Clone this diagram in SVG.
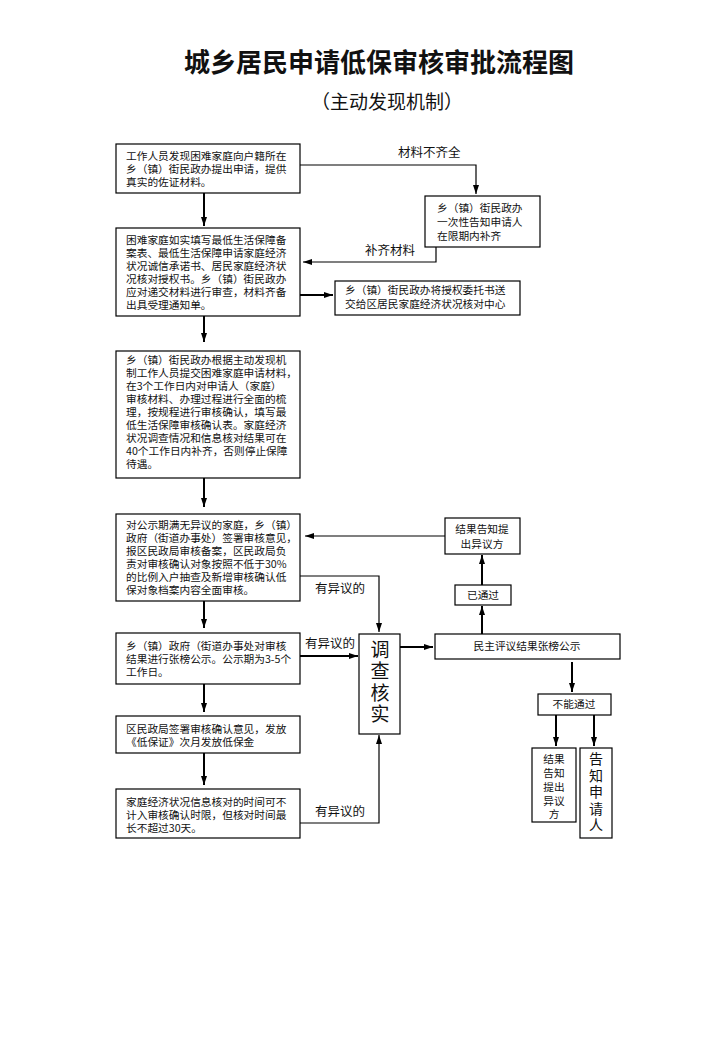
<svg xmlns="http://www.w3.org/2000/svg" width="720" height="1040" viewBox="0 0 720 1040">
<defs>
<marker id="ah" markerWidth="9" markerHeight="6" refX="9" refY="3" orient="auto" markerUnits="userSpaceOnUse">
<path d="M0,0 L9,3 L0,6 Z" fill="#000"/>
</marker>
<style>
.box{fill:#fff;stroke:#000;stroke-width:1.2}
.t{font-family:"Noto Sans CJK SC","Liberation Sans",sans-serif;font-size:10.7px;fill:#111}
.lbl{font-family:"Noto Sans CJK SC","Liberation Sans",sans-serif;font-size:12.5px;fill:#111}
.c{text-anchor:middle}
.v{font-family:"Noto Sans CJK SC",sans-serif;fill:#111;writing-mode:vertical-rl}
.ln{fill:none;stroke:#000;stroke-width:1.2}
.th{fill:none;stroke:#000;stroke-width:2}
</style>
</defs>
<rect width="720" height="1040" fill="#fff"/>
<g id="title">
<text x="379" y="72" text-anchor="middle" font-family="'Noto Sans CJK SC',sans-serif" font-size="26" font-weight="bold" fill="#111">城乡居民申请低保审核审批流程图</text>
<text x="387" y="109" text-anchor="middle" font-family="'Noto Sans CJK SC',sans-serif" font-size="19" fill="#111">（主动发现机制）</text>
</g>
<g id="connectors">
<line class="th" x1="204" y1="193" x2="204" y2="226" marker-end="url(#ah)"/>
<polyline class="ln" points="300,165 476,165 476,194" marker-end="url(#ah)"/>
<polyline class="ln" points="436,247 436,262 303,262" marker-end="url(#ah)"/>
<line class="th" x1="300" y1="295" x2="333" y2="295" marker-end="url(#ah)"/>
<line class="th" x1="204" y1="316" x2="204" y2="342" marker-end="url(#ah)"/>
<line class="th" x1="204" y1="478" x2="204" y2="507" marker-end="url(#ah)"/>
<line class="th" x1="204" y1="601" x2="204" y2="628" marker-end="url(#ah)"/>
<line class="th" x1="204" y1="684" x2="204" y2="712" marker-end="url(#ah)"/>
<line class="th" x1="204" y1="753" x2="204" y2="785" marker-end="url(#ah)"/>
<polyline class="ln" points="300,576 379,576 379,632" marker-end="url(#ah)"/>
<line class="th" x1="300" y1="656" x2="358" y2="656" marker-end="url(#ah)"/>
<polyline class="ln" points="300,823 379,823 379,735" marker-end="url(#ah)"/>
<line class="th" x1="400" y1="647" x2="433" y2="647" marker-end="url(#ah)"/>
<line class="th" x1="482" y1="634" x2="482" y2="606" marker-end="url(#ah)"/>
<line class="th" x1="482" y1="585" x2="482" y2="555" marker-end="url(#ah)"/>
<line class="ln" x1="445" y1="536" x2="305" y2="536" marker-end="url(#ah)"/>
<line class="th" x1="572" y1="662" x2="572" y2="692" marker-end="url(#ah)"/>
<line class="th" x1="556" y1="715" x2="556" y2="746" marker-end="url(#ah)"/>
<line class="th" x1="594" y1="715" x2="594" y2="746" marker-end="url(#ah)"/>
<text class="lbl" x="398" y="157" font-size="13">材料不齐全</text>
<text class="lbl" x="365" y="255" font-size="13">补齐材料</text>
<text class="lbl" x="315" y="593">有异议的</text>
<text class="lbl" x="305" y="648">有异议的</text>
<text class="lbl" x="315" y="816">有异议的</text>
</g>
<g id="n1">
<rect class="box" x="116" y="144" width="184" height="49"/>
<text class="t" x="126" y="160">工作人员发现困难家庭向户籍所在</text>
<text class="t" x="126" y="173">乡（镇）街民政办提出申请，提供</text>
<text class="t" x="126" y="186">真实的佐证材料。</text>
</g>
<g id="n2">
<rect class="box" x="116" y="228" width="184" height="88"/>
<text class="t" x="126" y="244">困难家庭如实填写最低生活保障备</text>
<text class="t" x="126" y="257">案表、最低生活保障申请家庭经济</text>
<text class="t" x="126" y="270">状况诚信承诺书、居民家庭经济状</text>
<text class="t" x="126" y="283">况核对授权书。乡（镇）街民政办</text>
<text class="t" x="126" y="296">应对递交材料进行审查，材料齐备</text>
<text class="t" x="126" y="309">出具受理通知单。</text>
</g>
<g id="n3">
<rect class="box" x="425" y="196" width="115" height="51"/>
<text class="t" x="437" y="212">乡（镇）街民政办</text>
<text class="t" x="437" y="226">一次性告知申请人</text>
<text class="t" x="437" y="240">在限期内补齐</text>
</g>
<g id="n4">
<rect class="box" x="335" y="281" width="185" height="34"/>
<text class="t" x="345" y="294">乡（镇）街民政办将授权委托书送</text>
<text class="t" x="345" y="308">交给区居民家庭经济状况核对中心</text>
</g>
<g id="n5">
<rect class="box" x="116" y="351" width="184" height="127"/>
<text class="t" x="126" y="364">乡（镇）街民政办根据主动发现机</text>
<text class="t" x="126" y="377">制工作人员提交困难家庭申请材料，</text>
<text class="t" x="126" y="390">在3个工作日内对申请人（家庭）</text>
<text class="t" x="126" y="403">审核材料、办理过程进行全面的梳</text>
<text class="t" x="126" y="416">理，按规程进行审核确认，填写最</text>
<text class="t" x="126" y="429">低生活保障审核确认表。家庭经济</text>
<text class="t" x="126" y="442">状况调查情况和信息核对结果可在</text>
<text class="t" x="126" y="455">40个工作日内补齐，否则停止保障</text>
<text class="t" x="126" y="468">待遇。</text>
</g>
<g id="n6">
<rect class="box" x="116" y="514" width="184" height="87"/>
<text class="t" x="126" y="529">对公示期满无异议的家庭，乡（镇）</text>
<text class="t" x="126" y="542">政府（街道办事处）签署审核意见，</text>
<text class="t" x="126" y="555">报区民政局审核备案，区民政局负</text>
<text class="t" x="126" y="568">责对审核确认对象按照不低于30%</text>
<text class="t" x="126" y="581">的比例入户抽查及新增审核确认低</text>
<text class="t" x="126" y="594">保对象档案内容全面审核。</text>
</g>
<g id="n7">
<rect class="box" x="116" y="633" width="184" height="51"/>
<text class="t" x="126" y="650">乡（镇）政府（街道办事处对审核</text>
<text class="t" x="126" y="663">结果进行张榜公示。公示期为3-5个</text>
<text class="t" x="126" y="676">工作日。</text>
</g>
<g id="n8">
<rect class="box" x="116" y="716" width="184" height="37"/>
<text class="t" x="126" y="733">区民政局签署审核确认意见，发放</text>
<text class="t" x="126" y="746">《低保证》次月发放低保金</text>
</g>
<g id="n9">
<rect class="box" x="116" y="789" width="184" height="49"/>
<text class="t" x="126" y="806">家庭经济状况信息核对的时间可不</text>
<text class="t" x="126" y="819">计入审核确认时限，但核对时间最</text>
<text class="t" x="126" y="832">长不超过30天。</text>
</g>
<g id="n10">
<rect class="box" x="359" y="634" width="41" height="100"/>
<text class="v" x="380" y="640" font-size="19" letter-spacing="2.5">调查核实</text>
</g>
<g id="n11">
<rect class="box" x="435" y="634" width="185" height="25"/>
<text class="t c" x="527" y="650" font-size="10">民主评议结果张榜公示</text>
</g>
<g id="n12">
<rect class="box" x="455" y="585" width="56" height="20"/>
<text class="t c" x="483" y="599" font-size="10">已通过</text>
</g>
<g id="n13">
<rect class="box" x="445" y="518" width="75" height="36"/>
<text class="t c" x="482" y="533">结果告知提</text>
<text class="t c" x="482" y="548">出异议方</text>
</g>
<g id="n14">
<rect class="box" x="538" y="694" width="73" height="21"/>
<text class="t c" x="574" y="708" font-size="9.5">不能通过</text>
</g>
<g id="n15">
<rect class="box" x="532" y="748" width="44" height="74"/>
<g class="t c" font-size="11.5">
<text x="554" y="763">结果</text>
<text x="554" y="777">告知</text>
<text x="554" y="791">提出</text>
<text x="554" y="805">异议</text>
<text x="554" y="818">方</text>
</g>
</g>
<g id="n16">
<rect class="box" x="580" y="748" width="32" height="90"/>
<text class="v" x="596" y="752" font-size="14" letter-spacing="2.5">告知申请人</text>
</g>
</svg>
